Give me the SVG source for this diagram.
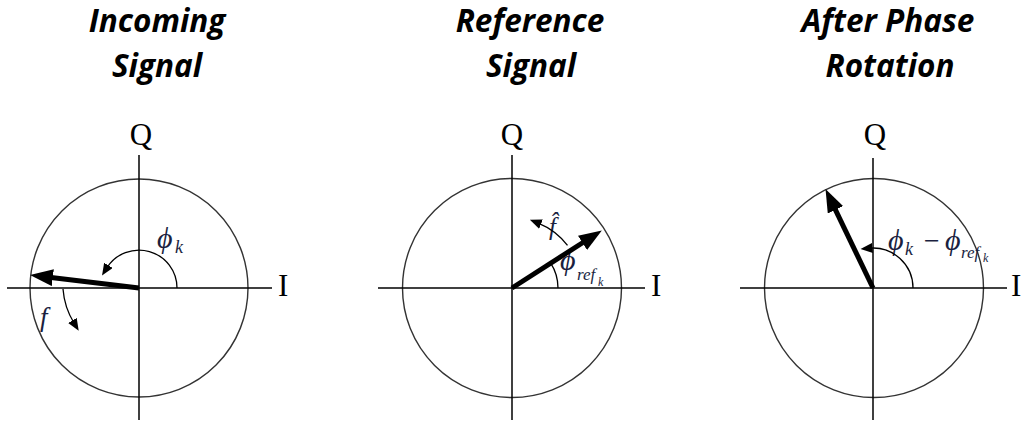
<svg xmlns="http://www.w3.org/2000/svg" width="1021" height="424" viewBox="0 0 1021 424">
<style>
.title{font-family:"Open Sans","Liberation Sans",sans-serif;font-weight:bold;font-style:italic;font-size:31.5px;fill:#000;text-anchor:middle}
.ax{stroke:#000;stroke-width:1.5;fill:none}
.circ{stroke:#333;stroke-width:1.4;fill:none}
.vec{stroke:#000;stroke-width:5;fill:none}
.arc{stroke:#000;stroke-width:1.3;fill:none}
.lbl{font-family:"Liberation Serif","Times New Roman",serif;font-size:31px;fill:#000}
.m{font-family:"Liberation Serif","DejaVu Serif",serif;font-style:italic;fill:#1b1f3f}
</style>
<defs>
<marker id="big" viewBox="0 0 23 17" refX="8" refY="8.5" markerWidth="23" markerHeight="17" markerUnits="userSpaceOnUse" orient="auto"><path d="M0,0 L23,8.5 L0,17 z" fill="#000"/></marker>
<marker id="small" viewBox="0 0 12 10" refX="3" refY="5" markerWidth="12" markerHeight="10" markerUnits="userSpaceOnUse" orient="auto"><path d="M0,0 L12,5 L0,10 z" fill="#000"/></marker>
</defs>

<g id="titles">
<text class="title" x="157" y="32">Incoming</text>
<text class="title" x="157" y="77">Signal</text>
<text class="title" x="530" y="32">Reference</text>
<text class="title" x="531" y="77">Signal</text>
<text class="title" x="888" y="32">After Phase</text>
<text class="title" x="890" y="77">Rotation</text>
</g>

<g id="panel1">
<circle class="circ" cx="139" cy="288" r="109"/>
<line class="ax" x1="139" y1="155" x2="139" y2="420"/>
<line class="ax" x1="7" y1="288" x2="272" y2="288"/>
<text class="lbl" x="141" y="145" text-anchor="middle">Q</text>
<text class="lbl" x="278" y="296">I</text>
<text class="m" x="157" y="248" font-size="30">ϕ</text>
<text class="m" x="175" y="253" font-size="18">k</text>
<text class="m" x="40" y="326" font-size="27">f</text>
</g>

<g id="panel2">
<circle class="circ" cx="512" cy="288" r="109.5"/>
<line class="ax" x1="512" y1="155" x2="512" y2="420"/>
<line class="ax" x1="378" y1="288" x2="645" y2="288"/>
<text class="lbl" x="512" y="145" text-anchor="middle">Q</text>
<text class="lbl" x="651" y="296">I</text>
<text class="m" x="549" y="235" font-size="25">f̂</text>
<text class="m" x="560" y="270" font-size="30">ϕ</text>
<text class="m" x="577" y="280" font-size="17">ref</text>
<text class="m" x="598" y="286" font-size="12">k</text>
</g>

<g id="panel3">
<circle class="circ" cx="874" cy="288" r="109.5"/>
<line class="ax" x1="873" y1="158" x2="873" y2="420"/>
<line class="ax" x1="740" y1="288" x2="1007" y2="288"/>
<text class="lbl" x="875" y="145" text-anchor="middle">Q</text>
<text class="lbl" x="1011" y="296">I</text>
<text class="m" x="888" y="250" font-size="30">ϕ</text>
<text class="m" x="905" y="255" font-size="18">k</text>
<text class="m" x="922" y="250" font-size="28" font-style="normal">−</text>
<text class="m" x="945" y="250" font-size="30">ϕ</text>
<text class="m" x="961" y="258" font-size="17">ref</text>
<text class="m" x="983" y="262" font-size="12">k</text>
</g>

<g id="connectors">
<line class="vec" x1="139" y1="288" x2="44.9" y2="276.7" marker-end="url(#big)"/>
<path class="arc" d="M177,288 A38,38 0 0 0 106.8,267.9" marker-end="url(#small)"/>
<path class="arc" d="M63,289 A76,76 0 0 0 74,323" marker-end="url(#small)"/>
<line class="vec" x1="512" y1="288" x2="589.2" y2="238.5" marker-end="url(#big)"/>
<path class="arc" d="M558,288 A46,46 0 0 0 550.7,263.2"/>
<path class="arc" d="M567.5,245.4 A70,70 0 0 0 538.2,223.1" marker-end="url(#small)"/>
<line class="vec" x1="873" y1="288" x2="832" y2="202.6" marker-end="url(#big)"/>
<path class="arc" d="M913,288 A40,40 0 0 0 869.5,248.2" marker-end="url(#small)"/>
</g>
</svg>
